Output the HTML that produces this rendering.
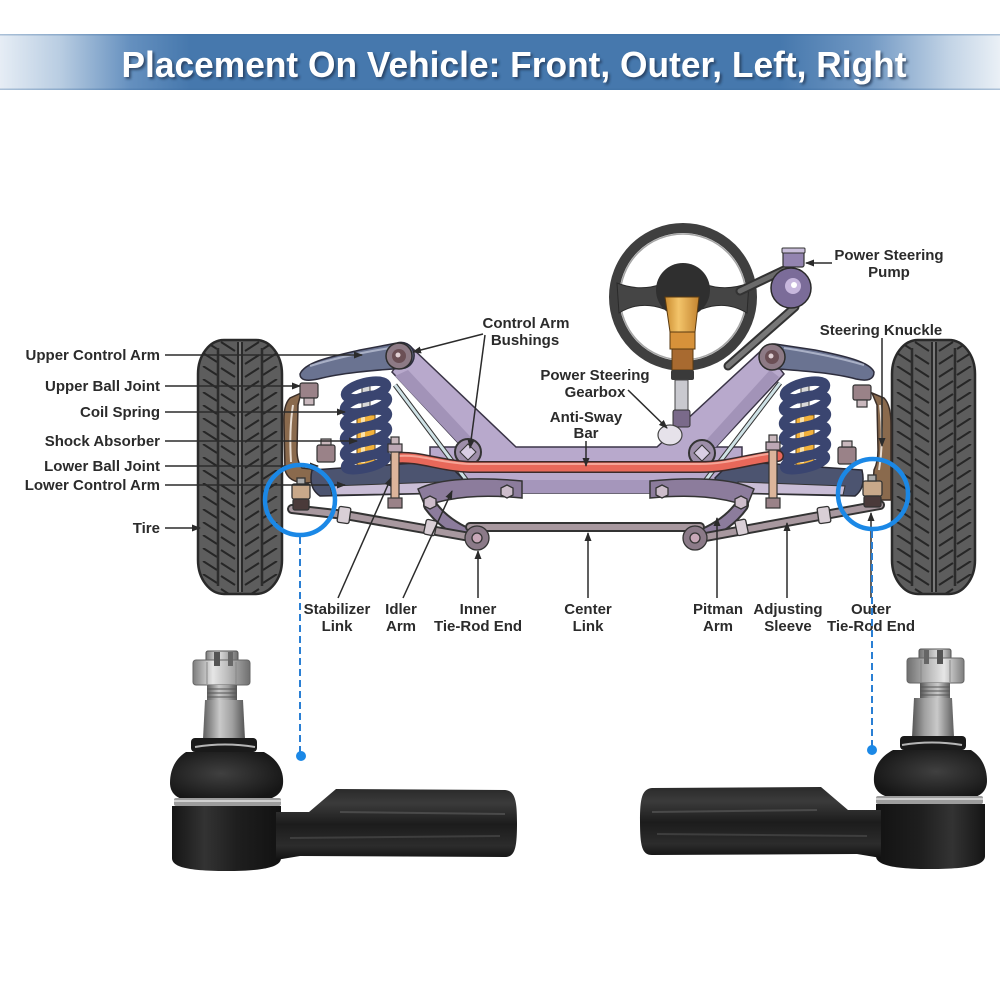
<!DOCTYPE html>
<html>
<head>
<meta charset="utf-8">
<style>
html,body{margin:0;padding:0;background:#fff;}
svg{display:block;}
text{font-family:"Liberation Sans",Arial,sans-serif;font-weight:bold;}
</style>
</head>
<body>
<svg width="1000" height="1000" viewBox="0 0 1000 1000" xmlns="http://www.w3.org/2000/svg">
<defs>
  <linearGradient id="band" x1="0" y1="0" x2="1" y2="0">
    <stop offset="0" stop-color="#e6edf5"/>
    <stop offset="0.06" stop-color="#b9cde2"/>
    <stop offset="0.13" stop-color="#6590bf"/>
    <stop offset="0.19" stop-color="#4678ad"/>
    <stop offset="0.78" stop-color="#4678ad"/>
    <stop offset="0.87" stop-color="#7299c4"/>
    <stop offset="0.95" stop-color="#c3d4e6"/>
    <stop offset="1" stop-color="#eaf0f6"/>
  </linearGradient>
  <filter id="sh" x="-5%" y="-20%" width="110%" height="150%">
    <feGaussianBlur stdDeviation="1.2"/>
  </filter>
  <pattern id="tread" patternUnits="userSpaceOnUse" width="84" height="13">
    <rect width="84" height="13" fill="#5d5d5d"/>
    <path d="M5 0 L19 9 M23 2 L37 11 M79 0 L65 9 M61 2 L47 11" stroke="#262626" stroke-width="2" fill="none"/>
  </pattern>
  <marker id="ah" markerWidth="9" markerHeight="8" refX="8" refY="4" orient="auto" markerUnits="userSpaceOnUse">
    <path d="M0,0.5 L9,4 L0,7.5 Z" fill="#2b2b2b"/>
  </marker>
  <linearGradient id="silver" x1="0" y1="0" x2="1" y2="0">
    <stop offset="0" stop-color="#7d7d7d"/>
    <stop offset="0.35" stop-color="#e6e6e6"/>
    <stop offset="0.6" stop-color="#bdbdbd"/>
    <stop offset="1" stop-color="#6f6f6f"/>
  </linearGradient>
  <linearGradient id="stud" x1="0" y1="0" x2="1" y2="0">
    <stop offset="0" stop-color="#5e5e5e"/>
    <stop offset="0.4" stop-color="#c9c9c9"/>
    <stop offset="0.7" stop-color="#a0a0a0"/>
    <stop offset="1" stop-color="#555"/>
  </linearGradient>
  <radialGradient id="boot" cx="0.45" cy="0.45" r="0.6">
    <stop offset="0" stop-color="#404040"/>
    <stop offset="1" stop-color="#161616"/>
  </radialGradient>
  <linearGradient id="arm" x1="0" y1="0" x2="0" y2="1">
    <stop offset="0" stop-color="#2a2a2a"/>
    <stop offset="0.2" stop-color="#3b3b3b"/>
    <stop offset="0.5" stop-color="#1c1c1c"/>
    <stop offset="0.8" stop-color="#2c2c2c"/>
    <stop offset="1" stop-color="#111"/>
  </linearGradient>
  <linearGradient id="housing" x1="0" y1="0" x2="1" y2="0">
    <stop offset="0" stop-color="#151515"/>
    <stop offset="0.3" stop-color="#333"/>
    <stop offset="0.6" stop-color="#1e1e1e"/>
    <stop offset="1" stop-color="#121212"/>
  </linearGradient>
  <linearGradient id="gold" x1="0" y1="0" x2="1" y2="0">
    <stop offset="0" stop-color="#c98a2e"/>
    <stop offset="0.4" stop-color="#f3c46a"/>
    <stop offset="1" stop-color="#c48430"/>
  </linearGradient>
  <g id="tieend">
    <rect x="206" y="651" width="32" height="12" rx="2" fill="url(#silver)" stroke="#555" stroke-width="1"/>
    <rect x="193" y="660" width="57" height="25" rx="3" fill="url(#silver)" stroke="#666" stroke-width="1"/>
    <rect x="214" y="652" width="6" height="14" fill="#555"/>
    <rect x="228" y="652" width="5" height="14" fill="#666"/>
    <path d="M207 662 L207 684 M236 662 L236 684" stroke="#888" stroke-width="1"/>
    <rect x="207" y="685" width="30" height="16" fill="url(#stud)"/>
    <path d="M207 689 H237 M207 693 H237 M207 697 H237" stroke="#555" stroke-width="1"/>
    <path d="M205 700 L243 700 L245 739 L203 739 Z" fill="url(#stud)"/>
    <rect x="191" y="738" width="66" height="14" rx="4" fill="#1a1a1a"/>
    <path d="M195 747 Q225 742 255 747" stroke="#b5b5b5" stroke-width="2" fill="none"/>
    <path d="M186 752 L264 752 C279 760 284 772 283 784 C282 795 272 800 260 800 L190 800 C176 800 170 792 170 783 C170 770 175 759 186 752 Z" fill="url(#boot)"/>
    <rect x="174" y="798" width="107" height="8" rx="2" fill="#9d9d9d"/>
    <rect x="174" y="800" width="107" height="2" fill="#d0d0d0"/>
    <path d="M172 806 L281 806 L281 858 C281 866 268 871 226 871 C184 871 172 866 172 858 Z" fill="url(#housing)"/>
    <path d="M276 812 L309 812 L336 789 L505 790 C515 791 517 800 517 823 C517 848 515 857 505 857 L300 856 L276 860 Z" fill="url(#arm)"/>
    <path d="M340 812 L505 814" stroke="#4a4a4a" stroke-width="2" fill="none"/>
    <path d="M290 838 L500 836" stroke="#3e3e3e" stroke-width="2" fill="none"/>
  </g>
</defs>

<rect x="0" y="34" width="1000" height="56" fill="url(#band)"/>
<rect x="0" y="34" width="1000" height="1.5" fill="#3d6ca0" opacity="0.35"/>
<rect x="0" y="88.5" width="1000" height="1.5" fill="#3d6ca0" opacity="0.35"/>
<text x="516" y="79" text-anchor="middle" font-size="36" textLength="785" lengthAdjust="spacingAndGlyphs" fill="#1d2f48" opacity="0.7" filter="url(#sh)">Placement On Vehicle: Front, Outer, Left, Right</text>
<text x="514" y="77" text-anchor="middle" font-size="36" textLength="785" lengthAdjust="spacingAndGlyphs" fill="#ffffff">Placement On Vehicle: Front, Outer, Left, Right</text>

<g transform="translate(198,340)">
  <rect x="0" y="0" width="84" height="254" rx="26" ry="34" fill="url(#tread)" stroke="#2a2a2a" stroke-width="2.5"/>
  <path d="M20 8 V246 M64 8 V246" stroke="#2c2c2c" stroke-width="2.5"/>
  <path d="M40 2 V252 M44 2 V252" stroke="#2a2a2a" stroke-width="2"/>
  <path d="M42 2 V252" stroke="#7a7a7a" stroke-width="2"/>
</g>
<g transform="translate(892,340)">
  <rect x="0" y="0" width="83" height="254" rx="26" ry="34" fill="url(#tread)" stroke="#2a2a2a" stroke-width="2.5"/>
  <path d="M20 8 V246 M63 8 V246" stroke="#2c2c2c" stroke-width="2.5"/>
  <path d="M40 2 V252 M44 2 V252" stroke="#2a2a2a" stroke-width="2"/>
  <path d="M42 2 V252" stroke="#7a7a7a" stroke-width="2"/>
</g>

<path d="M301 393 L290 398 Q283 405 284 425 L285 470 Q288 482 305 483 L320 482 L320 470 L302 468 Q297 462 297 450 L298 405 Z" fill="#8a6a4d" stroke="#3a2e28" stroke-width="1.5"/>
<path d="M293 405 Q289 430 291 462" stroke="#e8ddd3" stroke-width="2" fill="none"/>
<path d="M872 393 L884 398 Q891 405 891 425 L891 500 L872 500 L874 470 Q878 462 878 450 L877 405 Z" fill="#8a6a4d" stroke="#3a2e28" stroke-width="1.5"/>
<path d="M880 405 Q884 440 879 470" stroke="#e8ddd3" stroke-width="2" fill="none"/>

<path d="M392 372 L410 346 L516 447 L657 447 L764 348 L784 374 L716 447 L742 447 L742 493 L430 493 L430 447 L462 447 Z" fill="#b8a9cc" stroke="#3b3548" stroke-width="1.5"/>
<path d="M395 376 L462 447 L480 447 L408 370 Z" fill="#a293b8"/>
<path d="M779 377 L716 447 L700 447 L770 370 Z" fill="#a293b8"/>
<rect x="430" y="480" width="312" height="13" fill="#a596bb"/>
<path d="M395 385 L470 485" stroke="#333" stroke-width="5"/>
<path d="M395 385 L470 485" stroke="#cfe2e6" stroke-width="3"/>
<path d="M780 383 L702 485" stroke="#333" stroke-width="5"/>
<path d="M780 383 L702 485" stroke="#cfe2e6" stroke-width="3"/>

<path d="M312 470 L445 461 L462 478 L455 493 L320 496 Q308 488 312 470 Z" fill="#4c5470" stroke="#2a2a35" stroke-width="1.5"/>
<path d="M330 486 L440 482 L440 493 L332 495 Z" fill="#c9bdd6" stroke="#333" stroke-width="1"/>
<path d="M862 470 L732 461 L715 478 L722 493 L855 496 Q866 488 862 470 Z" fill="#4c5470" stroke="#2a2a35" stroke-width="1.5"/>
<path d="M845 486 L738 482 L738 493 L843 495 Z" fill="#c9bdd6" stroke="#333" stroke-width="1"/>

<rect x="362" y="380" width="8" height="40" fill="#d8d8d8" stroke="#444" stroke-width="1"/>
<rect x="357" y="415" width="18" height="50" fill="#f2b13a" stroke="#6a4a1a" stroke-width="1"/>
<rect x="361" y="417" width="4" height="46" fill="#fbe2a8"/>
<rect x="801" y="380" width="8" height="40" fill="#d8d8d8" stroke="#444" stroke-width="1"/>
<rect x="796" y="415" width="18" height="50" fill="#f2b13a" stroke="#6a4a1a" stroke-width="1"/>
<rect x="800" y="417" width="4" height="46" fill="#fbe2a8"/>
<g fill="none" stroke="#3a4570" stroke-width="9.5">
  <ellipse cx="366" cy="390" rx="21" ry="7.5" transform="rotate(-14 366 390)"/>
  <ellipse cx="366" cy="404" rx="22" ry="7.5" transform="rotate(-14 366 404)"/>
  <ellipse cx="366" cy="419" rx="22" ry="7.5" transform="rotate(-14 366 419)"/>
  <ellipse cx="366" cy="434" rx="22" ry="7.5" transform="rotate(-14 366 434)"/>
  <ellipse cx="366" cy="449" rx="22" ry="7.5" transform="rotate(-14 366 449)"/>
  <ellipse cx="366" cy="462" rx="21" ry="6" transform="rotate(-14 366 462)"/>
  <ellipse cx="805" cy="390" rx="21" ry="7.5" transform="rotate(-14 805 390)"/>
  <ellipse cx="805" cy="404" rx="22" ry="7.5" transform="rotate(-14 805 404)"/>
  <ellipse cx="805" cy="419" rx="22" ry="7.5" transform="rotate(-14 805 419)"/>
  <ellipse cx="805" cy="434" rx="22" ry="7.5" transform="rotate(-14 805 434)"/>
  <ellipse cx="805" cy="449" rx="22" ry="7.5" transform="rotate(-14 805 449)"/>
  <ellipse cx="805" cy="462" rx="21" ry="6" transform="rotate(-14 805 462)"/>
</g>

<path d="M300 374 C305 362 330 357 360 350 L397 343 A13 13 0 0 1 405 368 C380 370 345 372 318 379 Q300 383 300 374 Z" fill="#6a7391" stroke="#2d2d3d" stroke-width="1.5"/>
<path d="M310 366 C335 358 365 352 390 348" stroke="#a9b0c6" stroke-width="2" fill="none"/>
<circle cx="399" cy="356" r="13" fill="#8d7a85" stroke="#2d2d2d" stroke-width="1.5"/>
<circle cx="399" cy="356" r="7" fill="#6b4f55"/>
<circle cx="398" cy="355" r="2.5" fill="#e0d0d4"/>
<path d="M874 372 C870 362 845 356 815 350 L775 344 A13 13 0 0 0 767 368 C790 370 830 372 856 379 Q874 383 874 372 Z" fill="#6a7391" stroke="#2d2d3d" stroke-width="1.5"/>
<path d="M864 365 C840 358 810 352 784 348" stroke="#a9b0c6" stroke-width="2" fill="none"/>
<circle cx="772" cy="357" r="13" fill="#8d7a85" stroke="#2d2d2d" stroke-width="1.5"/>
<circle cx="772" cy="357" r="7" fill="#6b4f55"/>
<circle cx="771" cy="356" r="2.5" fill="#e0d0d4"/>

<g stroke="#333" stroke-width="1.2">
  <rect x="300" y="383" width="18" height="15" rx="2" fill="#9a8288"/>
  <rect x="304" y="398" width="10" height="7" fill="#c9b8bd"/>
  <rect x="317" y="445" width="18" height="17" rx="2" fill="#9a8288"/>
  <rect x="321" y="439" width="10" height="6" fill="#c9b8bd"/>
  <rect x="853" y="385" width="18" height="15" rx="2" fill="#9a8288"/>
  <rect x="857" y="400" width="10" height="7" fill="#c9b8bd"/>
  <rect x="838" y="447" width="18" height="17" rx="2" fill="#9a8288"/>
  <rect x="842" y="441" width="10" height="6" fill="#c9b8bd"/>
</g>

<circle cx="468" cy="452" r="13" fill="#9d8ea9" stroke="#333" stroke-width="2"/>
<path d="M468 444 L476 452 L468 460 L460 452 Z" fill="#d8cde3" stroke="#333" stroke-width="1"/>
<circle cx="702" cy="453" r="13" fill="#9d8ea9" stroke="#333" stroke-width="2"/>
<path d="M702 445 L710 453 L702 461 L694 453 Z" fill="#d8cde3" stroke="#333" stroke-width="1"/>

<path d="M396 458 C420 456 440 466 470 467 L700 467 C730 467 752 458 778 456" stroke="#3a2a2a" stroke-width="12" fill="none" stroke-linecap="round"/>
<path d="M396 458 C420 456 440 466 470 467 L700 467 C730 467 752 458 778 456" stroke="#e8685a" stroke-width="9" fill="none" stroke-linecap="round"/>
<path d="M398 456 C420 454 440 463 470 464 L700 464 C730 464 752 455 776 453" stroke="#f6a597" stroke-width="2" fill="none"/>

<g stroke="#333" stroke-width="1.2">
  <rect x="391" y="448" width="8" height="52" fill="#dcb59b"/>
  <rect x="388" y="444" width="14" height="8" fill="#bca7b4"/>
  <rect x="391" y="437" width="8" height="7" fill="#c9b8bd"/>
  <rect x="388" y="498" width="14" height="10" fill="#9a8288"/>
  <rect x="769" y="446" width="8" height="54" fill="#dcb59b"/>
  <rect x="766" y="442" width="14" height="8" fill="#bca7b4"/>
  <rect x="769" y="435" width="8" height="7" fill="#c9b8bd"/>
  <rect x="766" y="498" width="14" height="10" fill="#9a8288"/>
</g>

<path d="M418 489 C440 478 480 477 522 481 L522 498 C480 494 450 497 425 506 Z" fill="#8c7c9c" stroke="#333" stroke-width="1.5"/>
<path d="M754 489 C732 478 692 477 650 481 L650 498 C692 494 722 497 747 506 Z" fill="#8c7c9c" stroke="#333" stroke-width="1.5"/>
<path d="M430 505 Q445 526 474 537" stroke="#333" stroke-width="14" fill="none" stroke-linecap="round"/>
<path d="M430 505 Q445 526 474 537" stroke="#8c7c9c" stroke-width="10" fill="none" stroke-linecap="round"/>
<path d="M742 505 Q727 526 698 537" stroke="#333" stroke-width="14" fill="none" stroke-linecap="round"/>
<path d="M742 505 Q727 526 698 537" stroke="#8c7c9c" stroke-width="10" fill="none" stroke-linecap="round"/>

<g fill="none" stroke-linecap="round">
  <path d="M292 509 L345 515 L470 537" stroke="#333" stroke-width="10"/>
  <path d="M292 509 L345 515 L470 537" stroke="#a8989f" stroke-width="6"/>
  <path d="M470 527 L700 527" stroke="#333" stroke-width="10"/>
  <path d="M470 527 L700 527" stroke="#a8989f" stroke-width="6"/>
  <path d="M880 505 L825 515 L700 538" stroke="#333" stroke-width="10"/>
  <path d="M880 505 L825 515 L700 538" stroke="#a8989f" stroke-width="6"/>
</g>
<g stroke="#333" stroke-width="1.3">
  <rect x="338" y="507" width="12" height="16" rx="2" fill="#d9cfd6" transform="rotate(8 344 515)"/>
  <rect x="425" y="520" width="11" height="15" rx="2" fill="#d9cfd6" transform="rotate(12 430 527)"/>
  <rect x="818" y="507" width="12" height="16" rx="2" fill="#d9cfd6" transform="rotate(-8 824 515)"/>
  <rect x="736" y="520" width="11" height="15" rx="2" fill="#d9cfd6" transform="rotate(-12 741 527)"/>
  <path d="M424 499 L430 496 L436 499 L436 506 L430 509 L424 506 Z" fill="#cdbdcb"/>
  <path d="M501 488 L507 485 L513 488 L513 495 L507 498 L501 495 Z" fill="#cdbdcb"/>
  <path d="M656 488 L662 485 L668 488 L668 495 L662 498 L656 495 Z" fill="#cdbdcb"/>
  <path d="M735 499 L741 496 L747 499 L747 506 L741 509 L735 506 Z" fill="#cdbdcb"/>
  <circle cx="477" cy="538" r="12" fill="#8b7a88"/>
  <circle cx="477" cy="538" r="5" fill="#c8a8b8"/>
  <circle cx="695" cy="538" r="12" fill="#8b7a88"/>
  <circle cx="695" cy="538" r="5" fill="#c8a8b8"/>
  <rect x="292" y="484" width="18" height="15" rx="2" fill="#c9a98a"/>
  <rect x="293" y="499" width="16" height="11" rx="2" fill="#4a3a3a"/>
  <rect x="297" y="478" width="8" height="6" fill="#aaa"/>
  <rect x="863" y="481" width="19" height="15" rx="2" fill="#c9a98a"/>
  <rect x="864" y="496" width="17" height="11" rx="2" fill="#4a3a3a"/>
  <rect x="868" y="475" width="8" height="6" fill="#aaa"/>
</g>

<circle cx="683" cy="297" r="69" fill="none" stroke="#3f3f3f" stroke-width="10"/>
<circle cx="683" cy="297" r="63" fill="none" stroke="#a5a5a5" stroke-width="1.5"/>
<path d="M617 283 Q640 292 662 284 L664 309 Q640 300 619 313 Z" fill="#454545" stroke="#2a2a2a" stroke-width="1"/>
<path d="M749 283 Q726 292 704 284 L702 309 Q726 300 747 313 Z" fill="#454545" stroke="#2a2a2a" stroke-width="1"/>
<circle cx="683" cy="290" r="27" fill="#2f2f2f"/>
<path d="M740 291 L784 270" stroke="#333" stroke-width="9" stroke-linecap="round"/>
<path d="M740 291 L784 270" stroke="#6b6b6b" stroke-width="5" stroke-linecap="round"/>
<path d="M728 366 L795 307" stroke="#333" stroke-width="9" stroke-linecap="round"/>
<path d="M728 366 L795 307" stroke="#777" stroke-width="5" stroke-linecap="round"/>
<rect x="783" y="250" width="21" height="17" rx="2" fill="#9384b0" stroke="#333" stroke-width="1.2"/>
<rect x="782" y="248" width="23" height="5" rx="1" fill="#c8bdda" stroke="#333" stroke-width="1"/>
<circle cx="791" cy="288" r="20" fill="#7b6c99" stroke="#2a2a2a" stroke-width="1.5"/>
<circle cx="793" cy="286" r="8" fill="#c7b7dd"/>
<circle cx="794" cy="285" r="3" fill="#fff"/>
<path d="M665 297 L699 297 L695 332 L670 332 Z" fill="url(#gold)" stroke="#5a3a10" stroke-width="1"/>
<rect x="670" y="332" width="25" height="17" fill="#d7923a" stroke="#5a3a10" stroke-width="1"/>
<rect x="672" y="349" width="21" height="21" fill="#a86a30" stroke="#5a3a10" stroke-width="1"/>
<rect x="671" y="370" width="23" height="10" rx="2" fill="#3a3a3a"/>
<rect x="675" y="380" width="13" height="33" fill="#c9c9cf" stroke="#444" stroke-width="1"/>
<rect x="673" y="410" width="17" height="17" rx="2" fill="#7a6a8a" stroke="#333" stroke-width="1"/>
<ellipse cx="670" cy="435" rx="12" ry="10" fill="#e6e2ea" stroke="#444" stroke-width="1.2"/>

<g stroke="#2b2b2b" stroke-width="1.5" fill="none" marker-end="url(#ah)">
  <path d="M165 355 H362"/>
  <path d="M165 386 H300"/>
  <path d="M165 412 H345"/>
  <path d="M165 441 H357"/>
  <path d="M165 466 H318"/>
  <path d="M165 485 H345"/>
  <path d="M165 528 H200"/>
  <path d="M483 334 L413 352"/>
  <path d="M485 335 L470 448"/>
  <path d="M628 390 L667 428"/>
  <path d="M586 441 V466"/>
  <path d="M832 263 H806"/>
  <path d="M882 338 V446"/>
  <path d="M338 598 L391 478"/>
  <path d="M403 598 L452 491"/>
  <path d="M478 598 V551"/>
  <path d="M588 598 V533"/>
  <path d="M717 598 V518"/>
  <path d="M787 598 V523"/>
  <path d="M871 598 V513"/>
</g>

<g font-size="15" fill="#2b2b2b">
  <text x="160" y="360" text-anchor="end">Upper Control Arm</text>
  <text x="160" y="391" text-anchor="end">Upper Ball Joint</text>
  <text x="160" y="417" text-anchor="end">Coil Spring</text>
  <text x="160" y="446" text-anchor="end">Shock Absorber</text>
  <text x="160" y="471" text-anchor="end">Lower Ball Joint</text>
  <text x="160" y="490" text-anchor="end">Lower Control Arm</text>
  <text x="160" y="533" text-anchor="end">Tire</text>
  <g text-anchor="middle">
    <text x="526" y="328">Control Arm</text>
    <text x="525" y="345">Bushings</text>
    <text x="595" y="380">Power Steering</text>
    <text x="595" y="397">Gearbox</text>
    <text x="586" y="422">Anti-Sway</text>
    <text x="586" y="438">Bar</text>
    <text x="889" y="260">Power Steering</text>
    <text x="889" y="277">Pump</text>
    <text x="881" y="335">Steering Knuckle</text>
    <text x="337" y="614">Stabilizer</text>
    <text x="337" y="631">Link</text>
    <text x="401" y="614">Idler</text>
    <text x="401" y="631">Arm</text>
    <text x="478" y="614">Inner</text>
    <text x="478" y="631">Tie-Rod End</text>
    <text x="588" y="614">Center</text>
    <text x="588" y="631">Link</text>
    <text x="718" y="614">Pitman</text>
    <text x="718" y="631">Arm</text>
    <text x="788" y="614">Adjusting</text>
    <text x="788" y="631">Sleeve</text>
    <text x="871" y="614">Outer</text>
    <text x="871" y="631">Tie-Rod End</text>
  </g>
</g>

<circle cx="300" cy="500" r="35" fill="none" stroke="#1b88e6" stroke-width="4.5"/>
<circle cx="873" cy="494" r="35" fill="none" stroke="#1b88e6" stroke-width="4.5"/>
<path d="M300 537 V752" stroke="#2a7fd4" stroke-width="2" stroke-dasharray="7 4"/>
<path d="M872 531 V746" stroke="#2a7fd4" stroke-width="2" stroke-dasharray="7 4"/>
<circle cx="301" cy="756" r="5" fill="#1b88e6"/>
<circle cx="872" cy="750" r="5" fill="#1b88e6"/>

<use href="#tieend"/>
<use href="#tieend" transform="translate(1157,-2) scale(-1,1)"/>
</svg>
</body>
</html>
